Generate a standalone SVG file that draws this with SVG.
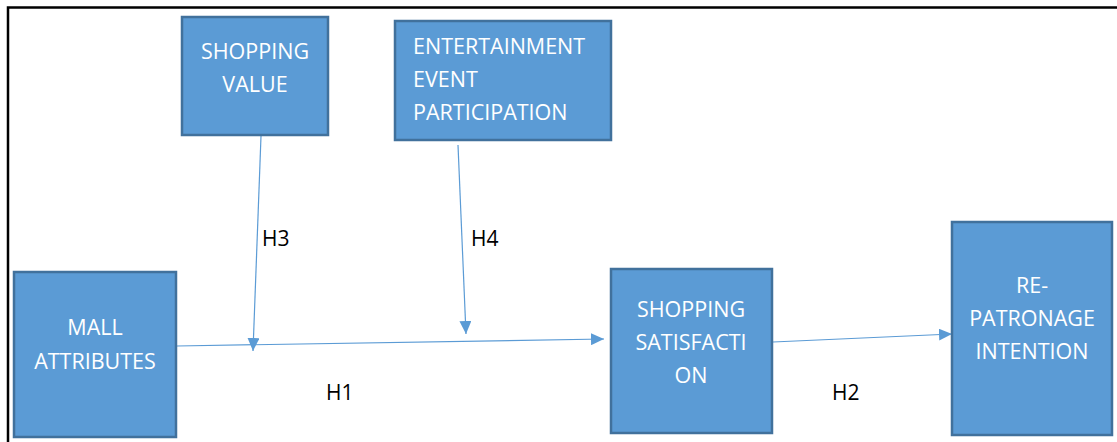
<svg xmlns="http://www.w3.org/2000/svg" width="1117" height="442" viewBox="0 0 1117 442">
<style>
.box{fill:#5B9BD5;stroke:#41719C;stroke-width:2.5}
.t{font-family:"Open Sans",sans-serif;font-size:21.5px;fill:#FFFFFF}
.c{text-anchor:middle}
.lbl{font-family:"Open Sans",sans-serif;font-size:21px;fill:#000000}
.conn{stroke:#5B9BD5;stroke-width:1.2;fill:none;marker-end:url(#arr)}
</style>
<defs>
<marker id="arr" markerUnits="userSpaceOnUse" markerWidth="14" markerHeight="12" refX="13" refY="6" orient="auto">
<path d="M0,0 L13,6 L0,12 Z" fill="#5B9BD5"/>
</marker>
</defs>
<rect width="1117" height="442" fill="#FFFFFF"/>
<rect x="8" y="7.5" width="1130" height="450" fill="none" stroke="#000000" stroke-width="2.5"/>
<g id="connectors">
<line class="conn" x1="177" y1="346" x2="604" y2="339"/>
<line class="conn" x1="773" y1="342" x2="952" y2="334"/>
<line class="conn" x1="261" y1="136" x2="253" y2="351"/>
<line class="conn" x1="458" y1="145" x2="466" y2="334"/>
<text class="lbl" x="262" y="246">H3</text>
<text class="lbl" x="471" y="246">H4</text>
<text class="lbl" x="326" y="400">H1</text>
<text class="lbl" x="832" y="400">H2</text>
</g>
<g id="shopping-value">
<rect class="box" x="182" y="17" width="146" height="118"/>
<text class="t c" x="255" y="59">SHOPPING</text>
<text class="t c" x="255" y="92">VALUE</text>
</g>
<g id="entertainment">
<rect class="box" x="395" y="21" width="216" height="119"/>
<text class="t" x="413" y="54">ENTERTAINMENT</text>
<text class="t" x="413" y="87">EVENT</text>
<text class="t" x="413" y="120">PARTICIPATION</text>
</g>
<g id="mall-attributes">
<rect class="box" x="14" y="272" width="162" height="165"/>
<text class="t c" x="95" y="335">MALL</text>
<text class="t c" x="95" y="369">ATTRIBUTES</text>
</g>
<g id="shopping-satisfaction">
<rect class="box" x="611" y="269" width="161" height="164"/>
<text class="t c" x="691" y="317">SHOPPING</text>
<text class="t c" x="691" y="350">SATISFACTI</text>
<text class="t c" x="691" y="383">ON</text>
</g>
<g id="repatronage">
<rect class="box" x="952" y="222" width="160" height="213"/>
<text class="t c" x="1032" y="293">RE-</text>
<text class="t c" x="1032" y="326">PATRONAGE</text>
<text class="t c" x="1032" y="359">INTENTION</text>
</g>
</svg>
